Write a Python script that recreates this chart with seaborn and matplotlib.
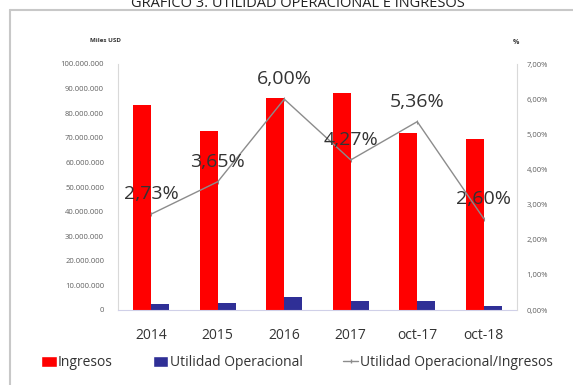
import matplotlib
matplotlib.use("Agg")
import matplotlib.pyplot as plt
import matplotlib.ticker as mticker
from matplotlib.patches import Patch
from matplotlib.lines import Line2D
import seaborn as sns
import pandas as pd

# Data (Miles USD and %)
periodos = ["2014", "2015", "2016", "2017", "oct-17", "oct-18"]
ingresos = [83300000, 72800000, 86200000, 88200000, 72000000, 69500000]
utilidad_operacional = [2270000, 2660000, 5170000, 3770000, 3860000, 1810000]
margen_pct = [2.73, 3.65, 6.00, 4.27, 5.36, 2.60]

series_names = ["Ingresos", "Utilidad Operacional"]
bar_colors = ["#FF0000", "#2F2F96"]
line_color = "#8C8C8C"

sns.set_theme(style="white")
plt.rcParams["font.family"] = ["Open Sans", "DejaVu Sans"]

df = pd.DataFrame({
    "Periodo": periodos * 2,
    "Valor": ingresos + utilidad_operacional,
    "Serie": [series_names[0]] * len(periodos) + [series_names[1]] * len(periodos),
})

fig = plt.figure(figsize=(5.73, 3.85), dpi=100)
fig.patch.set_facecolor("white")

# Outer chart frame (left and top edges)
fig.add_artist(Line2D([10 / 573, 10 / 573], [0, 1 - 10 / 385], color="#C8C8C8", lw=1.5))
fig.add_artist(Line2D([10 / 573, 1], [1 - 10 / 385, 1 - 10 / 385], color="#C8C8C8", lw=1.5))

fig.text(0.52, 1 - 7 / 385, "GRÁFICO 3. UTILIDAD OPERACIONAL E INGRESOS",
         ha="center", va="baseline", fontsize=10.5, color="#222222")

ax = fig.add_axes([118 / 573, 75 / 385, (517 - 118) / 573, (310 - 64) / 385])
sns.barplot(data=df, x="Periodo", y="Valor", hue="Serie", order=periodos,
            hue_order=series_names, palette=bar_colors, width=0.54, gap=0,
            saturation=1, linewidth=0, ax=ax, legend=False)
ax.set_xlim(-0.5, len(periodos) - 0.5)
ax.set_ylim(0, 100000000)
ax.yaxis.set_major_locator(mticker.MultipleLocator(10000000))
ax.yaxis.set_major_formatter(mticker.FuncFormatter(lambda v, p: f"{int(v):,}".replace(",", ".")))
ax.set_xlabel("")
ax.set_ylabel("")
ax.tick_params(axis="y", labelsize=5.5, colors="#606060", length=0, pad=10)
ax.tick_params(axis="x", labelsize=10, colors="#333333", length=0, pad=13)
for side in ["top", "right"]:
    ax.spines[side].set_visible(False)
ax.spines["left"].set_color("#D9D9D9")
ax.spines["bottom"].set_color("#D0D0E8")
ax.spines["left"].set_linewidth(0.8)
ax.spines["bottom"].set_linewidth(0.8)

ax2 = ax.twinx()
sns.lineplot(x=list(range(len(periodos))), y=margen_pct, ax=ax2, color=line_color,
             lw=1.0, marker="|", markersize=3, markeredgecolor=line_color)
ax2.set_ylim(0, 7)
ax2.yaxis.set_major_locator(mticker.MultipleLocator(1))
ax2.yaxis.set_major_formatter(mticker.FuncFormatter(lambda v, p: f"{v:.2f}%".replace(".", ",")))
ax2.tick_params(axis="y", labelsize=5.5, colors="#606060", length=0, pad=7)
ax2.set_ylabel("")
for side in ["top", "left", "bottom"]:
    ax2.spines[side].set_visible(False)
ax2.spines["right"].set_color("#D9D9D9")
ax2.spines["right"].set_linewidth(0.8)
ax2.grid(False)
ax.grid(False)

for i, v in enumerate(margen_pct):
    ax2.annotate(f"{v:.2f}%".replace(".", ","), (i, v), xytext=(0, 20),
                 textcoords="offset pixels", ha="center", va="center",
                 fontsize=14, color="#333333")

fig.text(106 / 573, 1 - 41 / 385, "Miles USD", ha="center", va="center",
         fontsize=4.5, fontweight="bold", color="#333333")
fig.text(516 / 573, 1 - 42 / 385, "%", ha="center", va="center",
         fontsize=5, fontweight="bold", color="#333333")

handles = [Patch(facecolor=bar_colors[0], label=series_names[0]),
           Patch(facecolor=bar_colors[1], label=series_names[1]),
           Line2D([0], [0], color=line_color, lw=1.0, marker="|", markersize=3,
                  label="Utilidad Operacional/Ingresos")]
fig.legend(handles=handles, loc="center", bbox_to_anchor=(0.518, 22 / 385), ncol=3,
           frameon=False, fontsize=10, handlelength=1.1, handleheight=0.8,
           handletextpad=0.1, columnspacing=2.9, labelcolor="#333333")

fig.savefig("out.png", dpi=100, facecolor="white")
